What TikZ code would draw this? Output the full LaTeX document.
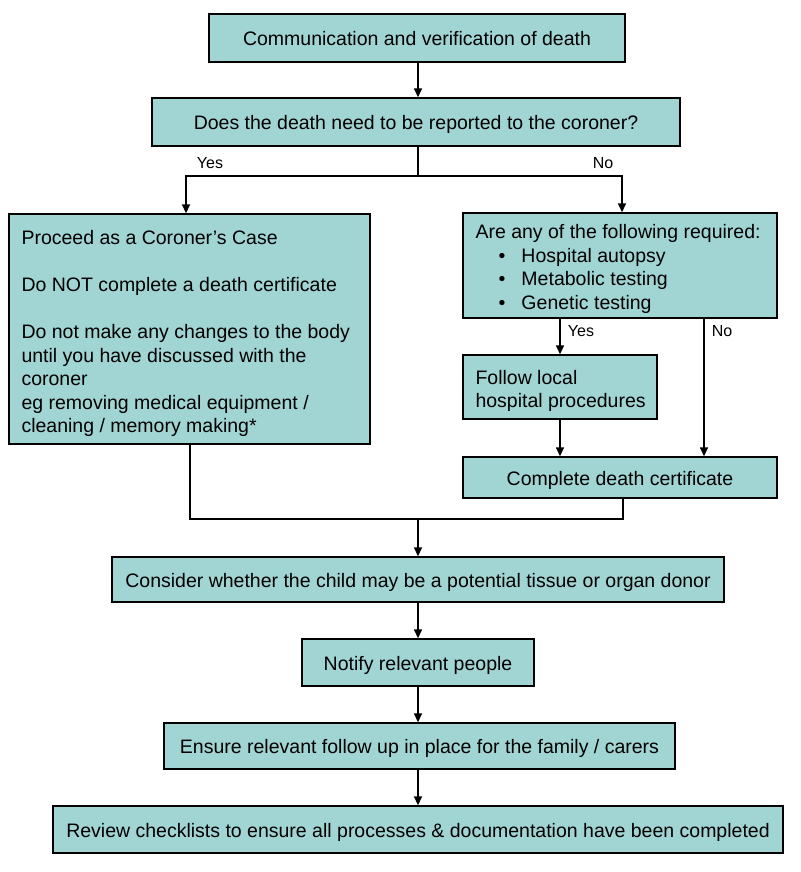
\documentclass[tikz,border=0pt]{standalone}
\usepackage{fontspec}
\setmainfont{Liberation Sans}
\usetikzlibrary{arrows.meta}
\definecolor{boxfill}{RGB}{161,213,212}
\begin{document}
\begin{tikzpicture}[x=1pt,y=-1pt,
  bodyfont/.style={font=\fontsize{19.5}{23.6}\selectfont},
  box/.style={draw=black, fill=boxfill, line width=1.4pt, inner sep=0pt, bodyfont,
    text height=15pt, text depth=0pt},
  txt/.style={bodyfont, align=left, inner sep=0pt, anchor=west, xshift=13pt},
  conn/.style={line width=1.5pt},
  arr/.style={conn, -{Triangle[length=9pt,width=8pt]}},
  lbl/.style={font=\fontsize{16}{19}\selectfont, inner sep=0pt}]
\useasboundingbox (0,0) rectangle (800,872);
\fill[white] (0,0) rectangle (800,872);

\node[box, minimum width=416pt, minimum height=48pt] (comm) at (417,38)
  {Communication and verification of death};
\node[box, minimum width=528pt, minimum height=48pt] (quest) at (416,122)
  {Does the death need to be reported to the coroner?};
\node[box, minimum width=361pt, minimum height=230pt] (coroner) at (189.5,329) {};
\node[txt, yshift=-4.5pt] (corT) at (coroner.west)
  {Proceed as a Coroner’s Case\\[23.6pt]
   Do NOT complete a death certificate\\[23.6pt]
   Do not make any changes to the body\\
   until you have discussed with the\\
   coroner\\
   eg removing medical equipment /\\
   cleaning / memory making*};
\node[box, minimum width=314pt, minimum height=105pt] (req) at (620,265.5) {};
\node[txt, yshift=-3.5pt] (reqT) at (req.west)
  {Are any of the following required:\\
   \hspace*{23pt}\makebox[23pt][l]{•}Hospital autopsy\\
   \hspace*{23pt}\makebox[23pt][l]{•}Metabolic testing\\
   \hspace*{23pt}\makebox[23pt][l]{•}Genetic testing};
\node[box, minimum width=194pt, minimum height=64pt] (follow) at (560,387) {};
\node[txt, yshift=-4pt] (followT) at (follow.west)
  {Follow local\\ hospital procedures};
\node[box, minimum width=314pt, minimum height=41pt] (complete) at (620,477.5)
  {Complete death certificate};
\node[box, minimum width=612pt, minimum height=45pt] (consider) at (418,579.5)
  {Consider whether the child may be a potential tissue or organ donor};
\node[box, minimum width=232pt, minimum height=47pt] (notify) at (418,662.5)
  {Notify relevant people};
\node[box, minimum width=511pt, minimum height=46pt] (ensure) at (419.5,746)
  {Ensure relevant follow up in place for the family / carers};
\node[box, minimum width=730pt, minimum height=47pt] (review) at (418,829.5)
  {Review checklists to ensure all processes \& documentation have been completed};

\node[lbl] (yes1) at (210,163) {Yes};
\node[lbl] (no1) at (603,163) {No};
\node[lbl] (yes2) at (581,331) {Yes};
\node[lbl] (no2) at (722,331) {No};

\coordinate (split) at (418,176);
\coordinate (yesx) at (186,0);
\coordinate (nox) at (622,0);
\coordinate (yx2) at (560,0);
\coordinate (nx2) at (704,0);
\coordinate (cx) at (623,0);
\coordinate (lx) at (190,0);
\coordinate (join) at (418,519);

\draw[arr] (comm.south -| split) -- (quest.north -| split);
\draw[arr] (quest.south -| split) -- (split) -| (coroner.north -| yesx);
\draw[arr] (split) -| (req.north -| nox);
\draw[arr] (req.south -| yx2) -- (follow.north -| yx2);
\draw[arr] (req.south -| nx2) -- (complete.north -| nx2);
\draw[arr] (follow.south -| yx2) -- (complete.north -| yx2);
\draw[conn] (coroner.south -| lx) |- (join);
\draw[conn] (complete.south -| cx) |- (join);
\draw[arr] (join) -- (consider.north -| join);
\draw[arr] (consider.south -| join) -- (notify.north -| join);
\draw[arr] (notify.south -| join) -- (ensure.north -| join);
\draw[arr] (ensure.south -| join) -- (review.north -| join);
\end{tikzpicture}
\end{document}
